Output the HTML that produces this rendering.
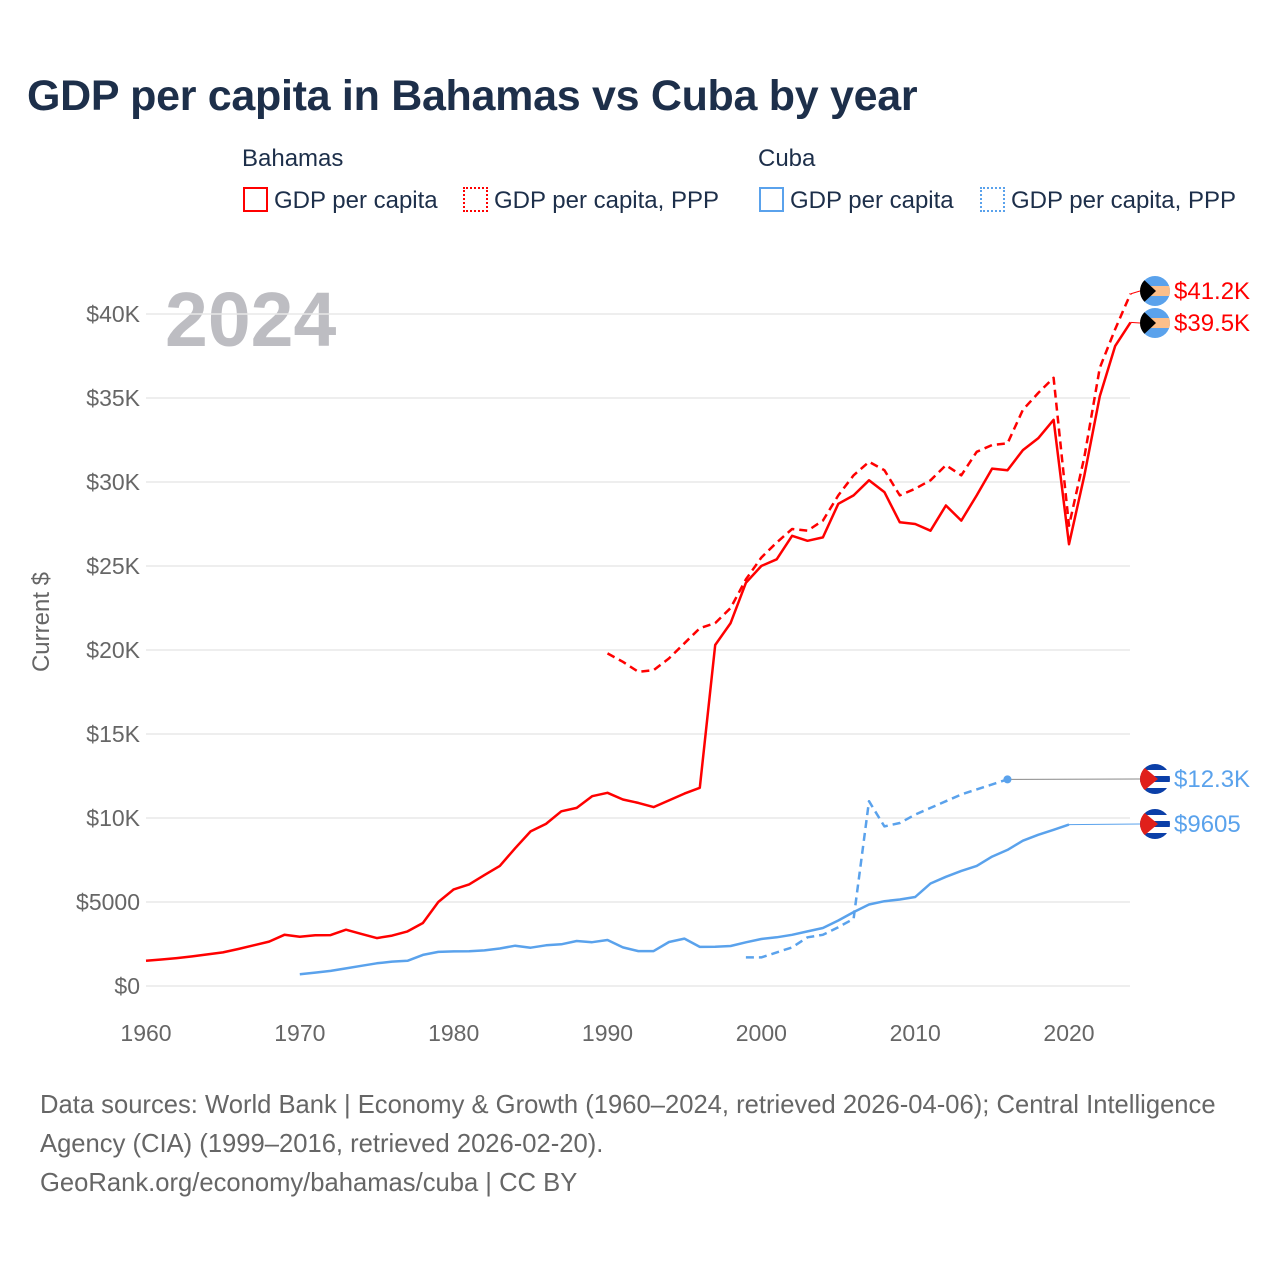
<!DOCTYPE html>
<html><head><meta charset="utf-8"><style>
body{margin:0;background:#fff;font-family:"Liberation Sans",sans-serif;}
#wrap{position:relative;width:1280px;height:1280px;overflow:hidden;}
.t{position:absolute;white-space:nowrap;}
</style></head><body><div id="wrap">
<div class="t" style="left:27px;top:72px;font-size:43px;font-weight:bold;color:#1d2f4a;letter-spacing:-0.3px;">GDP per capita in Bahamas vs Cuba by year</div>
<div class="t" style="left:242px;top:145px;font-size:24px;color:#1d2f4a;">Bahamas</div>
<div class="t" style="left:758px;top:145px;font-size:24px;color:#1d2f4a;">Cuba</div>
<div class="t" style="left:243px;top:187px;font-size:24px;color:#1d2f4a;"><span style="display:inline-block;width:21px;height:21px;border:2px solid #f00;vertical-align:-4px;margin-right:6px;"></span>GDP per capita</div>
<div class="t" style="left:463px;top:187px;font-size:24px;color:#1d2f4a;"><span style="display:inline-block;width:21px;height:21px;border:2px dotted #f00;vertical-align:-4px;margin-right:6px;"></span>GDP per capita, PPP</div>
<div class="t" style="left:759px;top:187px;font-size:24px;color:#1d2f4a;"><span style="display:inline-block;width:21px;height:21px;border:2px solid #5aa2ec;vertical-align:-4px;margin-right:6px;"></span>GDP per capita</div>
<div class="t" style="left:980px;top:187px;font-size:24px;color:#1d2f4a;"><span style="display:inline-block;width:21px;height:21px;border:2px dotted #5aa2ec;vertical-align:-4px;margin-right:6px;"></span>GDP per capita, PPP</div>
<div class="t" style="left:165px;top:276px;font-size:77px;font-weight:bold;color:#bdbdc2;">2024</div>
<div class="t" style="left:42px;top:622px;font-size:24px;color:#666;transform:translate(-50%,-50%) rotate(-90deg);">Current $</div>
<svg id="svg" width="1280" height="1280" style="position:absolute;left:0;top:0;"></svg>
<div class="t" style="left:40px;top:1086px;font-size:25.6px;line-height:39px;color:#666;">Data sources: World Bank | Economy &amp; Growth (1960–2024, retrieved 2026-04-06); Central Intelligence<br>Agency (CIA) (1999–2016, retrieved 2026-02-20).<br>GeoRank.org/economy/bahamas/cuba | CC BY</div>
</div>
<script>
const yTicks=[0,5000,10000,15000,20000,25000,30000,35000,40000];
const yTickLabels=["$0","$5000","$10K","$15K","$20K","$25K","$30K","$35K","$40K"];
const xTicks=[1960,1970,1980,1990,2000,2010,2020];
const bahGdpStart=1960;
const bahGdp=[1500,1580,1660,1760,1880,2000,2200,2420,2640,3050,2930,3020,3030,3350,3100,2850,3000,3250,3750,5000,5750,6050,6600,7150,8200,9200,9650,10400,10600,11300,11500,11100,10900,10650,11050,11450,11800,20300,21600,24000,25000,25400,26800,26500,26700,28700,29200,30100,29400,27600,27500,27100,28600,27700,29200,30800,30700,31900,32600,33700,26300,30400,35100,38100,39500];
const bahPppStart=1990;
const bahPpp=[19800,19300,18700,18800,19500,20400,21300,21600,22500,24200,25500,26400,27200,27100,27700,29200,30400,31200,30700,29200,29600,30100,31000,30400,31800,32200,32300,34300,35300,36200,27400,31500,36800,39100,41200];
const cubGdpStart=1970;
const cubGdp=[700,800,900,1050,1200,1350,1450,1500,1850,2030,2060,2070,2120,2230,2400,2280,2420,2480,2680,2610,2740,2300,2080,2080,2620,2820,2330,2340,2380,2600,2800,2900,3050,3250,3450,3900,4400,4850,5050,5150,5300,6100,6500,6850,7150,7700,8100,8650,9000,9300,9605];
const cubPppStart=1999;
const cubPpp=[1700,1700,2000,2300,2900,3050,3500,4000,11000,9500,9700,10200,10600,11000,11400,11700,12000,12300];
const endLabels=["$41.2K","$39.5K","$12.3K","$9605"];

const X=y=>146+(y-1960)*(923/60);
const Y=v=>986-v*0.0168;
const svg=document.getElementById('svg');const NS='http://www.w3.org/2000/svg';
function mk(t,a){const e=document.createElementNS(NS,t);for(const k in a)e.setAttribute(k,a[k]);svg.appendChild(e);return e;}
yTicks.forEach((v,i)=>{
 const g=mk('line',{x1:146,x2:1130,y1:Y(v),y2:Y(v),stroke:'#e8e8e8','stroke-width':1.5});
 
 
 const t=mk('text',{x:140,y:Y(v)+8,'text-anchor':'end','font-size':23,fill:'#666','font-family':'Liberation Sans'});
 t.textContent=yTickLabels[i];
 
 
});
xTicks.forEach(y=>{
 const t=mk('text',{x:X(y),y:1041,'text-anchor':'middle','font-size':23,fill:'#666','font-family':'Liberation Sans'});
 t.textContent=y;
 
 
});
function line(arr,start,color,dash,name){
 const d=arr.map((v,i)=>(i?'L':'M')+X(start+i).toFixed(1)+','+Y(v).toFixed(1)).join('');
 const p=mk('path',{d:d,fill:'none',stroke:color,'stroke-width':2.5,'stroke-dasharray':dash||'none','stroke-linejoin':'round'});
 
 
}
line(cubGdp,cubGdpStart,'#5aa2ec','', 'cuba-gdp-line');
line(cubPpp,cubPppStart,'#5aa2ec','8,5','cuba-ppp-line');
line(bahGdp,bahGdpStart,'#f00','', 'bahamas-gdp-line');
line(bahPpp,bahPppStart,'#f00','8,5','bahamas-ppp-line');
const ends=[[bahPpp,bahPppStart,'#f00',291,'#f00'],[bahGdp,bahGdpStart,'#f00',323,'#f00'],[cubPpp,cubPppStart,'#5aa2ec',779,'#888'],[cubGdp,cubGdpStart,'#5aa2ec',824,'#5aa2ec']];
ends.forEach((e,i)=>{
 const [arr,st,col,ly,lc]=e;const lx=X(st+arr.length-1),lv=Y(arr[arr.length-1]);
 const c=mk('line',{x1:lx,y1:lv,x2:1140,y2:ly,stroke:lc,'stroke-width':1});
 
 
 if(i==2){const dt=mk('circle',{cx:lx,cy:lv,r:4,fill:'#5aa2ec'});}
 const fg=mk('g',{});
 
 
 const cp='cp'+i;
 const cl=document.createElementNS(NS,'clipPath');cl.setAttribute('id',cp);const cc=document.createElementNS(NS,'circle');cc.setAttribute('cx',1155);cc.setAttribute('cy',ly);cc.setAttribute('r',15);cl.appendChild(cc);svg.appendChild(cl);
 const add=(t,a)=>{const el=document.createElementNS(NS,t);for(const k in a)el.setAttribute(k,a[k]);el.setAttribute('clip-path','url(#'+cp+')');fg.appendChild(el);};
 if(i<2){
  add('rect',{x:1140,y:ly-15,width:30,height:30,fill:'#5aa2ec'});
  add('rect',{x:1140,y:ly-5,width:30,height:10,fill:'#fcbf8a'});
  add('polygon',{points:`1140,${ly-15} 1156,${ly} 1140,${ly+15}`,fill:'#000'});
 }else{
  add('rect',{x:1140,y:ly-15,width:30,height:30,fill:'#fff'});
  [-15,-3,9].forEach(o=>add('rect',{x:1140,y:ly+o,width:30,height:6,fill:'#0b3fa8'}));
  add('polygon',{points:`1140,${ly-15} 1158,${ly} 1140,${ly+15}`,fill:'#e0201b'});
 }
 const t=mk('text',{x:1174,y:ly+8,'font-size':24,fill:col,'font-family':'Liberation Sans'});
 t.textContent=endLabels[i];
 
 
});
</script></body></html>
